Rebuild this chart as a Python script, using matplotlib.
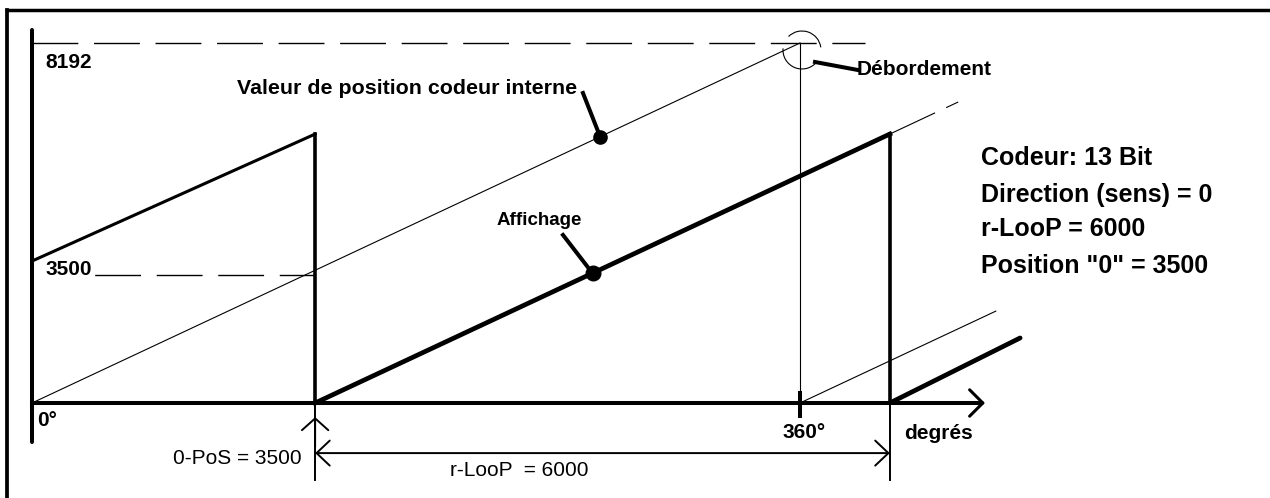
import matplotlib
matplotlib.use("Agg")
import matplotlib.pyplot as plt
from matplotlib.patches import Arc
from matplotlib.lines import Line2D
from matplotlib.transforms import ScaledTranslation

plt.rcParams['font.family'] = ['Liberation Sans', 'DejaVu Sans']

# schematic units: x = codeur steps along the degree axis, y = position value
FULL_SCALE = 8192
RESET_X = [3020, 9150]            # display wraps back to 0
DISPLAY_START = 3230              # display at 0 deg
DISPLAY_TOP = 6120                # display just before the wrap
LEVEL_3500 = 2910                 # dashed "3500" level as drawn
AXIS_END = 10165
Y_AXIS = [-890, 8490]
ENCODER_TAIL = (10280, 2090)
DISPLAY_TAIL = (10540, 1480)
DISPLAY_EXT = (9880, 6850)
TOP_DASH_END = 8885
DIM_Y = -1140                     # dimension line level
EXT_BOTTOM = -1750
VALEUR_DOT = 6060
AFFICH_DOT = (5980, 2950)

labels_right = ['Codeur: 13 Bit', 'Direction (sens) = 0', 'r-LooP = 6000', 'Position "0" = 3500']
labels_right_y = [5575, 4735, 3960, 3120]

fig = plt.figure(figsize=(12.7, 4.98), dpi=100)
ax = fig.add_axes([0, 0, 1, 1])
ax.set_xlim(-341.3, 13205.3)
ax.set_ylim(-2161.8, 9170.6)
ax.axis('off')

# outer frame (top and left only)
fig.add_artist(Line2D([7 / 1270, 7 / 1270], [0, 1 - 10.5 / 498], transform=fig.transFigure, color='black', lw=2.7))
fig.add_artist(Line2D([7 / 1270, 1], [1 - 10.5 / 498, 1 - 10.5 / 498], transform=fig.transFigure, color='black', lw=2.5))

k = 'black'
# axes
ax.plot([0, 0], Y_AXIS, color=k, lw=2.9, solid_capstyle='round')
ax.plot([0, AXIS_END - 60], [0, 0], color=k, lw=2.9)
ax.annotate('', xy=(AXIS_END, 0), xytext=(AXIS_END - 600, 0),
            arrowprops=dict(arrowstyle='->,head_length=9.5,head_width=9.5', mutation_scale=1,
                            lw=2.2, color=k, shrinkA=0, shrinkB=0))

# dashed levels
ax.plot([0, TOP_DASH_END], [FULL_SCALE, FULL_SCALE], color=k, lw=1, linestyle=(0, (33, 11.3)))
ax.plot([500, RESET_X[0]], [LEVEL_3500, LEVEL_3500], color=k, lw=1, linestyle=(33, (33, 11.3)))

# codeur internal value (thin)
ax.plot([0, FULL_SCALE], [0, FULL_SCALE], color=k, lw=0.8)
ax.plot([FULL_SCALE, ENCODER_TAIL[0]], [0, ENCODER_TAIL[1]], color=k, lw=0.8)
ax.plot([FULL_SCALE, FULL_SCALE], [0, FULL_SCALE], color=k, lw=0.8)

# display (thick)
ax.plot([0, RESET_X[0]], [DISPLAY_START, DISPLAY_TOP], color=k, lw=2.2)
ax.plot([RESET_X[0], RESET_X[1]], [0, DISPLAY_TOP], color=k, lw=3.4)
ax.plot([RESET_X[1], DISPLAY_TAIL[0]], [0, DISPLAY_TAIL[1]], color=k, lw=3.4, solid_capstyle='round')
for rx in RESET_X:
    ax.plot([rx, rx], [0, DISPLAY_TOP], color=k, lw=2.6)
    ax.plot([rx, rx], [EXT_BOTTOM, 0], color=k, lw=1.4)
ax.plot([RESET_X[1], DISPLAY_EXT[0]], [DISPLAY_TOP, DISPLAY_EXT[1]], color=k, lw=0.8,
        linestyle=(0, (45, 11, 14, 80)))

# 360 deg tick
ax.plot([FULL_SCALE, FULL_SCALE], [230, -300], color=k, lw=2.9)

# overflow circle
circ_tr = fig.dpi_scale_trans + ScaledTranslation(8213, 8033, ax.transData)
ax.add_patch(Arc((0, 0), 0.38, 0.38, theta1=8, theta2=135, transform=circ_tr, color=k, lw=0.8))
ax.add_patch(Arc((0, 0), 0.38, 0.38, theta1=175, theta2=320, transform=circ_tr, color=k, lw=0.8))
ax.plot([8352, 8811], [7760, 7577], color=k, lw=2.9)

# leaders with dots
ax.plot([5877, VALEUR_DOT], [7054, VALEUR_DOT], color=k, lw=2.9)
ax.plot([VALEUR_DOT], [VALEUR_DOT], 'o', color=k, ms=9.5)
ax.plot([5664, AFFICH_DOT[0]], [3823, AFFICH_DOT[1]], color=k, lw=2.9)
ax.plot([AFFICH_DOT[0]], [AFFICH_DOT[1]], 'o', color=k, ms=10.5)

# dimension arrows
ax.annotate('', xy=(RESET_X[0], -320), xytext=(RESET_X[0], -1000),
            arrowprops=dict(arrowstyle='->,head_length=8.5,head_width=9.5', mutation_scale=1,
                            lw=1.4, color=k, shrinkA=0, shrinkB=0))
ax.annotate('', xy=(RESET_X[0], DIM_Y), xytext=(RESET_X[1], DIM_Y),
            arrowprops=dict(arrowstyle='<->,head_length=9.5,head_width=9', mutation_scale=1,
                            lw=1.4, color=k, shrinkA=0, shrinkB=0))

# texts
bold = dict(fontweight='bold', color=k)
ax.text(139, 7737, '8192', fontsize=15, va='center', **bold)
ax.text(139, 3038, '3500', fontsize=15, va='center', **bold)
ax.text(5813, 7168, 'Valeur de position codeur interne', fontsize=15.4, va='center', ha='right', **bold)
ax.text(5867, 4164, 'Affichage', fontsize=13.5, va='center', ha='right', **bold)
ax.text(8800, 7578, 'Débordement', fontsize=15, va='center', **bold)
ax.text(53, -390, '0°', fontsize=15, va='center', **bold)
ax.text(8000, -660, '360°', fontsize=15, va='center', **bold)
ax.text(9301, -683, 'degrés', fontsize=15, va='center', **bold)
for s, yy in zip(labels_right, labels_right_y):
    ax.text(10123, yy, s, fontsize=18, va='center', **bold)
ax.text(2880, -1274, '0-PoS = 3500', fontsize=15, va='center', ha='right', color=k)
ax.text(4459, -1525, 'r-LooP  = 6000', fontsize=15, va='center', color=k)

fig.savefig('out.png', dpi=100)
